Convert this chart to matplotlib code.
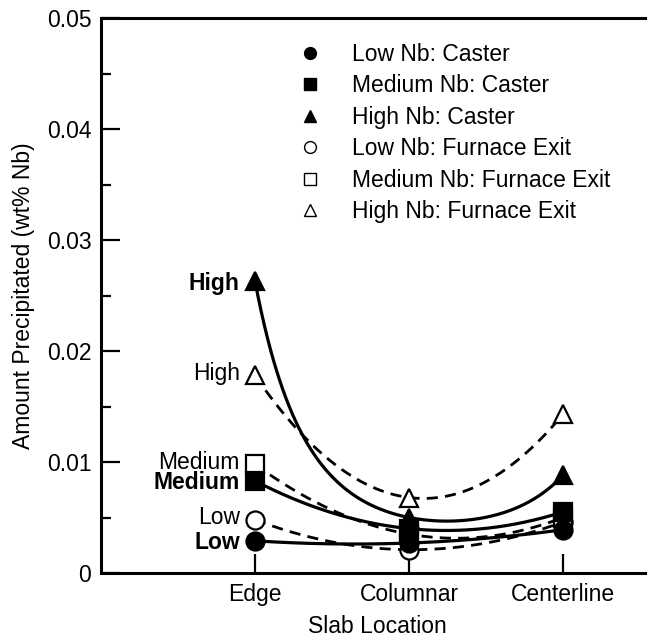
import numpy as np
import matplotlib.pyplot as plt
from matplotlib.lines import Line2D

plt.rcParams['font.family'] = ['Liberation Sans', 'DejaVu Sans']

# adatok
locations = ["Edge", "Columnar", "Centerline"]
pos = [1, 2, 3]

low_caster = [0.0029, 0.0027, 0.0039]
med_caster = [0.0083, 0.0040, 0.0055]
high_caster = [0.0263, 0.0050, 0.0088]
low_furnace = [0.0048, 0.0021, 0.0046]
med_furnace = [0.0098, 0.0035, 0.0050]
high_furnace = [0.0178, 0.0068, 0.0143]

# (values, marker, face, dashed?, legend label, edge label, weight, fit in log space?)
series = [
    (low_caster, "o", "black", False, "Low Nb: Caster", "Low", "bold", False),
    (med_caster, "s", "black", False, "Medium Nb: Caster", "Medium", "bold", False),
    (high_caster, "^", "black", False, "High Nb: Caster", "High", "bold", True),
    (low_furnace, "o", "white", True, "Low Nb: Furnace Exit", "Low", "normal", False),
    (med_furnace, "s", "white", True, "Medium Nb: Furnace Exit", "Medium", "normal", False),
    (high_furnace, "^", "white", True, "High Nb: Furnace Exit", "High", "normal", False),
]

FS = 16.5

fig = plt.figure(figsize=(6.47, 6.38), dpi=100)
ax = fig.add_axes([101 / 647, 65 / 638, 616 / 647, 555 / 638])

xs = np.linspace(1, 3, 200)
# furnace first, caster on top
for vals, mk, fc, dashed, lab, short, wt, logfit in series[3:] + series[:3]:
    if logfit:
        curve = np.exp(np.polyval(np.polyfit(pos, np.log(vals), 2), xs))
    else:
        curve = np.polyval(np.polyfit(pos, vals, 2), xs)
    if dashed:
        ax.plot(xs, curve, color="black", lw=2, dashes=(4, 2.6))
    else:
        ax.plot(xs, curve, color="black", lw=2.3)
    ax.plot(pos, vals, ls="none", marker=mk, ms=13, mfc=fc, mec="black", mew=1.6)
    dy = -1.5 if wt == "bold" else 1.5
    ax.annotate(short, (1, vals[0]), xytext=(-11, dy), textcoords="offset points",
                ha="right", va="center", fontsize=FS, fontweight=wt)

handles = []
for vals, mk, fc, dashed, lab, short, wt, logfit in series:
    handles.append(Line2D([], [], ls="none", marker=mk, ms=8.5, mfc=fc,
                          mec="black", mew=1.0, label=lab))

ax.legend(handles=handles, loc="upper left", bbox_to_anchor=(0.288, 0.972),
          frameon=False, fontsize=FS, handletextpad=0.8, labelspacing=0.37,
          borderaxespad=0)

ax.set_xlim(0, 4)
ax.set_ylim(0, 0.05)
ax.set_xticks(pos)
ax.set_xticklabels(locations)
ax.set_yticks([0, 0.01, 0.02, 0.03, 0.04, 0.05])
ax.set_yticklabels(["0", "0.01", "0.02", "0.03", "0.04", "0.05"])
ax.set_yticks(np.arange(0.005, 0.05, 0.01), minor=True)
ax.tick_params(axis="both", which="major", direction="in", length=14, width=1.6,
               labelsize=FS, pad=7)
ax.tick_params(axis="y", which="minor", direction="in", length=7, width=1.6)
for s in ["left", "bottom", "top"]:
    ax.spines[s].set_linewidth(2.2)
ax.spines["right"].set_visible(False)

ax.set_xlabel("Slab Location", fontsize=FS)
ax.xaxis.set_label_coords((377 - 101) / 616, -0.075)
ax.set_ylabel("Amount Precipitated (wt% Nb)", fontsize=FS)
ax.yaxis.set_label_coords(-0.107, 0.5)

plt.savefig("out.png", dpi=100)
